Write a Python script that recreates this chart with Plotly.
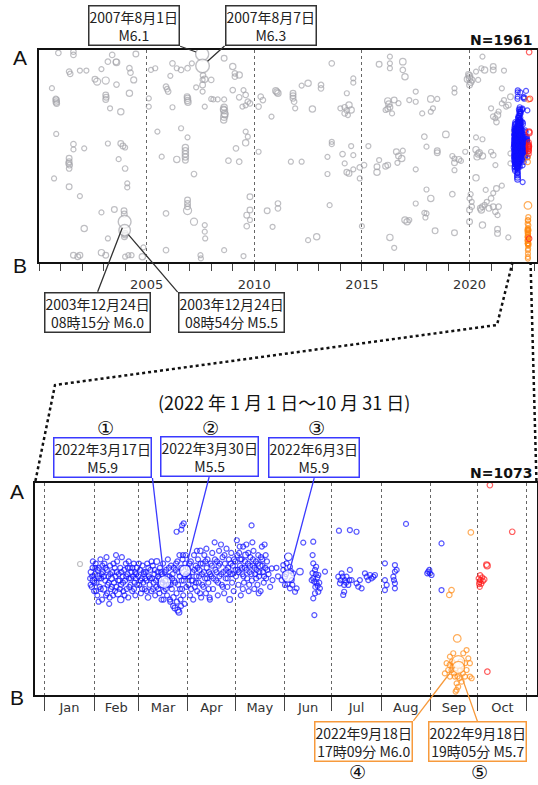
import numpy as np
import pandas as pd
import plotly.graph_objects as go

# ---------------------------------------------------------------------------
# Hypocentre catalogue projected on the A-B profile.
# position: 0 = B (bottom) ... 100 = A (top); magnitude drives the marker size.
# ---------------------------------------------------------------------------

# 2000-2021 events: (decimal year, position, magnitude)
GREY_EVENTS = [
    (2000.9, 98.6, 3.2), (2001.6, 99.2, 3.2), (2001.6, 97.7, 3.2), (2001.4, 89.8, 3.2), (2001.45, 88.7, 3.2),
    (2001.9, 90.3, 3.0), (2002.2, 90.3, 3.0), (2000.6, 82.0, 3.0), (2000.8, 76.4, 3.5), (2000.8, 75.5, 3.5),
    (2000.82, 74.8, 3.3), (2000.78, 77.0, 3.2), (2002.6, 86.2, 3.3), (2002.7, 85.1, 3.8), (2003.1, 85.6, 3.8),
    (2003.1, 78.8, 3.3), (2003.1, 76.7, 3.3), (2003.12, 77.7, 3.3), (2003.4, 97.7, 3.2), (2003.2, 94.5, 3.2),
    (2003.6, 94.2, 3.6), (2003.58, 94.4, 3.3), (2002.9, 91.0, 3.0), (2004.2, 91.4, 3.2), (2004.25, 89.3, 3.2),
    (2004.4, 85.9, 3.4), (2003.6, 83.7, 3.2), (2004.2, 79.6, 3.5), (2003.8, 70.9, 3.5), (2004.5, 98.1, 3.3),
    (2003.3, 72.5, 3.0), (2000.8, 60.4, 3.0),
    (2005.2, 90.6, 3.0), (2005.4, 91.4, 3.0), (2005.1, 77.2, 3.0), (2005.1, 73.3, 3.0), (2005.9, 82.7, 3.2),
    (2005.95, 81.5, 3.2), (2006.0, 80.4, 3.2), (2006.2, 93.7, 3.2), (2006.4, 91.4, 3.0), (2006.6, 90.6, 3.2),
    (2006.9, 91.4, 3.2), (2006.1, 87.8, 3.0), (2006.2, 73.0, 3.0), (2006.9, 77.2, 3.5), (2006.9, 76.2, 3.5),
    (2006.92, 75.4, 3.5), (2006.88, 78.0, 3.3), (2007.1, 93.7, 3.0), (2007.3, 82.4, 3.0), (2007.7, 86.2, 3.5),
    (2007.6, 83.5, 3.3), (2008.0, 85.9, 3.2), (2007.6, 80.4, 3.0), (2008.0, 76.9, 3.0), (2006.9, 58.8, 3.0),
    (2006.6, 63.1, 3.0), (2007.7, 73.3, 3.0), (2008.1, 76.7, 3.0), (2008.3, 76.7, 3.0), (2008.6, 76.7, 3.0),
    (2008.6, 73.0, 3.5), (2008.6, 71.5, 3.8), (2008.62, 70.0, 3.8), (2008.6, 68.5, 3.8), (2008.58, 67.0, 3.5),
    (2008.63, 69.5, 3.5), (2008.57, 72.0, 3.5), (2007.62, 88.0, 3.2), (2007.6, 86.0, 3.0),
    (2008.6, 96.1, 3.3), (2009.0, 92.2, 3.5), (2009.1, 89.0, 3.2), (2009.3, 88.2, 3.5), (2009.1, 87.4, 3.2),
    (2009.0, 81.1, 3.2), (2009.3, 77.7, 3.2), (2009.5, 81.1, 3.0), (2009.6, 78.8, 3.2), (2009.8, 74.8, 3.2),
    (2009.7, 75.6, 3.2), (2009.6, 73.9, 3.0), (2009.45, 73.3, 3.0), (2009.6, 61.5, 3.0), (2009.7, 59.1, 3.0),
    (2005.5, 61.5, 3.0), (2010.3, 78.0, 3.2), (2010.4, 76.4, 3.2), (2010.2, 73.3, 3.2),
    (2011.0, 80.8, 3.5), (2011.1, 79.6, 3.5), (2011.05, 80.2, 3.5), (2010.8, 68.6, 3.0), (2011.8, 79.6, 3.3),
    (2011.8, 78.4, 3.3), (2011.8, 77.2, 3.3), (2011.85, 75.6, 3.2), (2012.2, 83.2, 3.0), (2012.5, 84.3, 3.5),
    (2013.1, 83.5, 3.2), (2013.1, 81.9, 3.2), (2012.7, 72.2, 3.5), (2013.6, 93.7, 3.2), (2011.9, 72.5, 3.0),
    (2014.0, 72.5, 3.0), (2014.2, 73.0, 3.2), (2014.4, 74.0, 3.5), (2014.3, 71.5, 3.2), (2014.5, 71.7, 3.5),
    (2014.2, 70.1, 3.2), (2014.35, 69.3, 3.0), (2014.6, 86.6, 3.0), (2014.6, 84.6, 3.0), (2014.3, 79.6, 3.0),
    (2015.8, 93.3, 3.3), (2016.3, 96.9, 3.0), (2016.3, 93.7, 3.0), (2016.3, 91.4, 3.0), (2016.9, 94.5, 3.6),
    (2016.9, 90.6, 3.2), (2017.0, 87.4, 3.5), (2016.2, 76.0, 3.5), (2016.25, 74.5, 3.5), (2016.3, 73.0, 3.3),
    (2016.2, 72.3, 3.3), (2016.5, 76.4, 3.3), (2016.7, 74.9, 3.0), (2016.1, 71.7, 3.0), (2016.4, 70.1, 3.0),
    (2017.5, 80.4, 3.0), (2017.2, 76.4, 3.0), (2017.5, 75.6, 3.0), (2018.2, 76.9, 3.6), (2018.5, 76.9, 3.0),
    (2018.2, 70.9, 3.0), (2017.8, 70.1, 3.0), (2018.3, 72.5, 3.0), (2017.9, 59.1, 3.2), (2018.9, 60.2, 3.6),
    (2019.3, 81.9, 3.0), (2019.3, 79.9, 3.0),
    (2019.9, 86.2, 3.5), (2020.0, 86.7, 3.6), (2020.1, 85.9, 3.5), (2020.0, 87.8, 3.5), (2020.05, 84.8, 3.5),
    (2019.95, 88.5, 3.3), (2020.0, 83.5, 3.3), (2020.3, 89.8, 3.0), (2020.4, 85.9, 3.0), (2020.6, 96.9, 3.0),
    (2020.7, 90.6, 3.5), (2020.55, 91.4, 3.0), (2021.1, 92.2, 3.3), (2021.1, 90.6, 3.3), (2021.6, 90.3, 3.0),
    (2021.5, 81.9, 3.0), (2021.0, 72.5, 3.0), (2021.1, 68.6, 3.2), (2021.2, 67.8, 3.0), (2021.3, 69.3, 3.5),
    (2021.7, 73.3, 3.0), (2021.5, 74.8, 3.0), (2021.6, 76.4, 3.0), (2021.9, 77.9, 3.3), (2021.8, 74.0, 3.3),
    (2020.6, 57.9, 3.0), (2020.3, 58.8, 3.0), (2021.35, 71.0, 3.0), (2021.25, 66.0, 3.2),
    (2001.6, 55.6, 3.2), (2001.6, 53.1, 3.0), (2002.1, 53.6, 3.0), (2003.2, 55.9, 3.0), (2003.8, 55.9, 3.3),
    (2003.9, 54.7, 3.3), (2004.0, 54.0, 3.0), (2001.4, 48.9, 3.3), (2001.4, 47.3, 3.3), (2001.42, 45.7, 3.3),
    (2001.4, 44.1, 3.2), (2001.38, 46.5, 3.3), (2003.7, 48.5, 3.0), (2004.0, 44.1, 3.2), (2000.7, 39.4, 3.0),
    (2001.4, 35.5, 3.3), (2001.9, 31.1, 3.0), (2004.1, 37.1, 3.0), (2004.1, 35.2, 3.0), (2002.9, 23.4, 3.0),
    (2003.5, 24.8, 3.3), (2003.95, 24.2, 3.3), (2003.96, 22.6, 3.3), (2004.0, 13.5, 3.3), (2004.0, 12.7, 3.3),
    (2003.97, 11.9, 3.3), (2002.1, 15.8, 3.5), (2003.2, 11.1, 3.0), (2001.6, 3.2, 3.3), (2001.8, 2.5, 3.3),
    (2001.9, 3.2, 3.3), (2002.9, 4.4, 3.5), (2003.1, 3.2, 3.3), (2004.0, 2.5, 3.0), (2004.15, 3.2, 3.0),
    (2004.3, 3.2, 3.0), (2004.8, 2.5, 3.5), (2004.85, 6.9, 3.0), (2005.7, 49.7, 3.0), (2005.9, 5.6, 3.2),
    (2006.4, 48.4, 3.5), (2006.8, 54.0, 3.5), (2006.8, 52.5, 3.5), (2006.8, 51.0, 3.5), (2006.8, 49.5, 3.5),
    (2006.8, 48.0, 3.3), (2007.2, 41.5, 3.2), (2006.9, 29.2, 3.3), (2006.9, 27.6, 3.3), (2006.9, 26.1, 3.3),
    (2006.9, 24.3, 4.2), (2005.9, 22.9, 3.2), (2007.2, 19.0, 3.8), (2007.7, 17.4, 3.0), (2007.7, 14.3, 3.0),
    (2007.72, 11.1, 3.0), (2007.5, 3.2, 3.0), (2007.52, 1.7, 3.0), (2008.6, 5.6, 3.0), (2009.5, 2.8, 3.0),
    (2008.8, 47.8, 3.2), (2009.3, 47.3, 3.2), (2009.15, 53.6, 3.2), (2009.6, 56.2, 3.5), (2009.8, 30.8, 3.3),
    (2009.8, 24.5, 3.3), (2009.65, 22.1, 3.3), (2009.65, 16.9, 3.2), (2009.8, 19.8, 3.0), (2010.6, 24.2, 3.3),
    (2010.2, 52.0, 3.0),
    (2013.6, 56.7, 3.0), (2013.6, 55.6, 3.0), (2014.5, 54.7, 3.0), (2015.3, 54.7, 3.0), (2011.7, 47.3, 3.0),
    (2012.2, 47.3, 3.0), (2013.4, 49.6, 3.0), (2014.1, 50.9, 3.2), (2014.6, 50.4, 3.0), (2014.2, 46.5, 3.0),
    (2014.6, 43.7, 3.0), (2014.4, 41.8, 3.3), (2014.3, 42.3, 3.3), (2013.4, 41.5, 3.0), (2014.9, 44.6, 3.2),
    (2015.1, 45.7, 3.2), (2014.9, 39.4, 3.0), (2015.7, 44.9, 3.3), (2015.7, 42.3, 3.5), (2015.8, 48.1, 3.0),
    (2016.1, 45.2, 3.3), (2016.2, 45.7, 3.3), (2016.6, 52.0, 3.3), (2016.7, 50.0, 3.3), (2016.85, 48.8, 3.5),
    (2016.65, 46.8, 3.0), (2016.9, 52.5, 3.0), (2017.5, 43.7, 3.0), (2018.0, 54.4, 3.0), (2018.5, 51.5, 3.3),
    (2018.5, 52.5, 3.3), (2019.2, 50.0, 3.0), (2019.3, 48.8, 3.0), (2019.3, 46.8, 3.3), (2019.5, 48.4, 3.3),
    (2019.6, 47.7, 3.0), (2019.8, 52.0, 3.0), (2019.3, 43.3, 3.0), (2020.3, 53.0, 3.5), (2020.45, 51.5, 3.5),
    (2020.35, 49.6, 3.5), (2020.6, 50.0, 3.5), (2020.4, 51.0, 3.5), (2020.3, 39.7, 3.5), (2021.1, 50.4, 3.2),
    (2021.2, 45.7, 3.0), (2021.0, 52.0, 3.0), (2021.9, 46.5, 3.0), (2021.9, 51.2, 3.0), (2018.0, 34.2, 3.0),
    (2019.2, 32.0, 3.2), (2018.2, 30.0, 3.5), (2017.5, 27.6, 3.0), (2020.1, 28.4, 3.0), (2020.1, 26.1, 3.2),
    (2020.0, 24.5, 3.3), (2020.0, 19.0, 3.3), (2020.5, 25.3, 3.3), (2020.55, 24.5, 3.5), (2020.6, 26.1, 3.3),
    (2020.9, 25.3, 3.3), (2021.1, 26.1, 3.3), (2021.2, 23.7, 3.2), (2021.3, 22.1, 3.0), (2020.8, 28.4, 3.0),
    (2021.0, 30.0, 3.2), (2021.1, 32.5, 3.0), (2021.25, 34.7, 3.3), (2020.75, 34.0, 3.0), (2020.7, 27.0, 3.0),
    (2021.35, 26.1, 3.2), (2011.1, 27.6, 3.2), (2011.1, 25.3, 3.2), (2013.5, 26.8, 3.0), (2017.9, 23.2, 3.0),
    (2018.0, 22.9, 3.0), (2017.95, 21.0, 3.0), (2017.0, 19.8, 3.5), (2017.1, 19.0, 3.5), (2017.2, 19.8, 3.0),
    (2018.4, 14.7, 3.3), (2019.3, 13.8, 3.3), (2020.6, 17.4, 3.5), (2021.3, 15.4, 3.3), (2021.3, 13.5, 3.3),
    (2021.8, 11.6, 3.0), (2015.0, 16.9, 3.0), (2012.9, 11.9, 3.5), (2012.5, 10.3, 3.0), (2016.3, 11.6, 3.5),
    (2016.5, 6.7, 3.0), (2010.85, 16.6, 3.0), (2020.0, 30.0, 3.0), (2020.05, 32.0, 3.0), (2021.5, 36.0, 3.0),
]

# 2022 events: (day counted from 1 January 2022, position, magnitude)
GREY_2022 = [(22.1, 61.8, 3.0)]

BLUE_2022 = [
    # February
    (28.5, 55, 3.0), (29.0, 58, 3.2), (29.5, 51, 3.0), (30.0, 60, 3.0), (30.5, 54, 3.5), (31.0, 49, 3.0),
    (31.5, 57, 3.0), (32.0, 62, 3.0), (32.5, 53, 3.0), (33.0, 47, 3.0), (33.5, 56, 3.3), (34.0, 60, 3.0),
    (34.5, 51, 3.0), (35.0, 64, 3.0), (35.5, 55, 3.0), (36.0, 45, 3.0), (36.5, 58, 3.0), (37.0, 50, 3.5),
    (37.5, 62, 3.0), (38.0, 54, 3.0), (38.5, 47, 3.0), (39.0, 59, 3.0), (39.5, 52, 3.0), (40.0, 56, 3.0),
    (40.5, 43, 3.0), (41.0, 61, 3.0), (41.5, 50, 3.0), (42.0, 55, 3.3), (42.5, 58, 3.0), (43.0, 47, 3.0),
    (43.5, 53, 3.0), (44.0, 60, 3.0), (44.5, 56, 3.0), (45.0, 51, 3.0), (45.5, 63, 3.0), (46.0, 48, 3.8),
    (46.5, 57, 3.0), (47.0, 54, 3.0), (47.5, 60, 3.0), (48.0, 52, 3.0), (48.5, 65, 3.0), (49.0, 56, 3.0),
    (49.5, 49, 3.0), (50.0, 59, 3.0), (50.5, 54, 3.0), (51.0, 62, 3.0), (51.5, 50, 3.0), (52.0, 57, 3.0),
    (52.5, 46, 3.0), (53.0, 55, 3.0), (53.5, 60, 3.0), (54.0, 52, 3.0), (54.5, 58, 3.0), (55.0, 49, 3.0),
    (55.5, 56, 3.0), (56.0, 62, 3.0), (56.5, 53, 3.0), (57.0, 47, 3.0), (57.5, 57, 3.0), (58.0, 60, 3.2),
    (28.8, 52, 3.0), (29.8, 56, 3.0), (30.2, 63, 3.0), (31.2, 53, 3.0), (32.2, 49, 3.0), (33.2, 59, 3.0),
    (34.2, 55, 3.0), (35.2, 50, 3.0), (36.2, 61, 3.0), (37.2, 56, 3.0), (38.2, 60, 3.0), (39.2, 48, 3.0),
    (40.2, 53, 3.0), (41.2, 57, 3.0), (42.2, 51, 3.0), (43.2, 62, 3.0), (44.2, 49, 3.0), (45.2, 58, 3.0),
    (46.2, 54, 3.0), (47.2, 50, 3.0), (48.2, 58, 3.0), (49.2, 53, 3.0), (50.2, 47, 3.0), (51.2, 56, 3.0),
    (52.2, 60, 3.0), (53.2, 51, 3.0), (54.2, 55, 3.0), (55.2, 60, 3.0), (56.2, 50, 3.0), (57.2, 55, 3.0),
    (58.2, 52, 3.0), (33.8, 44, 3.0), (40.8, 46, 3.0), (47.8, 45, 3.5), (44.8, 66, 3.0), (38.8, 65, 3.0),
    (31.8, 60, 3.0), (52.8, 63, 3.0), (56.8, 58, 3.0), (35.8, 57, 3.0),
    # March
    (59.0, 56, 3.0), (59.5, 52, 3.0), (60.0, 59, 3.0), (60.5, 48, 3.0), (61.0, 55, 3.0), (61.5, 61, 3.0),
    (62.0, 53, 3.0), (62.5, 57, 3.0), (63.0, 50, 3.0), (63.5, 58, 3.0), (64.0, 54, 3.0), (64.5, 62, 3.0),
    (65.0, 46, 3.2), (65.5, 56, 3.0), (66.0, 52, 3.0), (66.5, 59, 3.0), (67.0, 49, 3.0), (67.5, 55, 3.0),
    (68.0, 61, 3.0), (68.5, 53, 3.0), (69.0, 57, 3.0), (69.5, 47, 3.0), (70.0, 54, 3.0), (70.5, 63, 3.3),
    (71.0, 58, 3.0), (71.5, 50, 3.0), (72.0, 55, 3.0), (72.5, 60, 3.0), (73.0, 52, 3.5), (73.5, 45, 3.0),
    (74.0, 57, 3.0), (74.5, 62, 3.0), (75.0, 49, 3.0), (76.0, 54, 3.0), (76.5, 59, 3.0), (77.0, 47, 3.0),
    (77.5, 64, 3.0), (78.0, 52, 3.0), (78.5, 56, 3.0), (79.0, 44, 3.0), (79.5, 61, 3.0), (80.0, 50, 3.0),
    (80.5, 57, 3.0), (81.0, 46, 3.2), (81.5, 54, 3.0), (82.0, 41, 3.3), (82.5, 59, 3.0), (83.0, 48, 3.0),
    (83.5, 63, 3.0), (84.0, 52, 3.0), (84.5, 39, 3.3), (85.0, 56, 3.0), (85.5, 45, 3.0), (86.0, 60, 3.0),
    (86.5, 50, 3.0), (87.0, 66, 3.0), (87.5, 54, 3.0), (88.0, 43, 3.0), (88.5, 62, 3.0), (89.0, 57, 3.0),
    (83.0, 77, 3.0), (86.0, 78, 3.0), (86.5, 80, 3.0), (87.5, 81, 3.0),
    (59.2, 62, 3.0), (60.2, 54, 3.0), (61.2, 50, 3.0), (62.2, 58, 3.0), (63.2, 55, 3.0), (64.2, 49, 3.0),
    (65.2, 60, 3.0), (66.2, 55, 3.0), (67.2, 63, 3.0), (68.2, 50, 3.0), (69.2, 59, 3.0), (70.2, 51, 3.0),
    (71.2, 56, 3.0), (72.2, 48, 3.0), (73.2, 58, 3.0), (74.2, 53, 3.0), (75.5, 58, 3.0), (76.2, 50, 3.0),
    (77.2, 56, 3.0), (78.2, 60, 3.0), (79.2, 52, 3.0), (80.2, 55, 3.0), (81.2, 60, 3.0), (82.2, 53, 3.0),
    (83.2, 44, 3.0), (84.2, 58, 3.0), (85.2, 50, 3.0), (86.2, 54, 3.0), (87.2, 47, 3.0), (88.2, 56, 3.0),
    (89.2, 51, 3.0), (80.8, 42, 3.0), (83.8, 40, 3.3), (85.8, 42, 3.0), (78.8, 45, 3.0), (74.8, 45, 3.0),
    (86.8, 64, 3.0), (84.8, 66, 3.0), (88.8, 66, 3.0), (82.7, 62, 3.0),
    # April
    (90.0, 60, 3.0), (90.5, 52, 3.0), (91.0, 56, 3.0), (91.5, 47, 3.0), (92.0, 63, 3.0), (92.5, 54, 3.0),
    (93.0, 58, 3.0), (93.5, 45, 3.0), (94.0, 66, 3.0), (94.5, 51, 3.0), (95.0, 61, 3.0), (95.5, 56, 3.0),
    (96.0, 49, 3.0), (96.5, 64, 3.0), (97.0, 53, 3.0), (97.5, 59, 3.0), (98.0, 68, 3.2), (98.5, 46, 3.0),
    (99.0, 57, 3.0), (99.5, 62, 3.0), (100.0, 51, 3.0), (100.5, 66, 3.0), (101.0, 55, 3.0), (101.5, 48, 3.0),
    (102.0, 60, 3.0), (102.5, 64, 3.0), (103.0, 53, 3.0), (103.5, 58, 3.0), (104.0, 45, 3.0), (104.5, 62, 3.0),
    (105.0, 56, 3.0), (105.5, 67, 3.0), (106.0, 50, 3.0), (107.0, 72, 3.0), (107.5, 59, 3.0), (108.0, 54, 3.0),
    (108.5, 63, 3.0), (109.0, 47, 3.0), (109.5, 61, 3.0), (110.0, 56, 3.0), (111.0, 71, 3.0), (111.5, 52, 3.0),
    (112.0, 65, 3.0), (112.5, 58, 3.0), (113.0, 48, 3.0), (113.5, 62, 3.0), (114.0, 55, 3.0), (114.5, 69, 3.0),
    (115.0, 51, 3.0), (115.5, 60, 3.0), (116.0, 64, 3.0), (116.5, 45, 3.3), (117.0, 57, 3.0), (117.5, 67, 3.0),
    (118.0, 53, 3.0), (118.5, 61, 3.0), (119.0, 49, 3.0),
    (90.2, 56, 3.0), (91.2, 62, 3.0), (92.2, 50, 3.0), (93.2, 54, 3.0), (94.2, 59, 3.0), (95.2, 53, 3.0),
    (96.2, 60, 3.0), (97.2, 56, 3.0), (98.2, 62, 3.0), (99.2, 52, 3.0), (100.2, 58, 3.0), (101.2, 63, 3.0),
    (102.2, 55, 3.0), (103.2, 50, 3.0), (104.2, 57, 3.0), (105.2, 61, 3.0), (106.2, 55, 3.0), (107.2, 64, 3.0),
    (108.2, 58, 3.0), (109.2, 53, 3.0), (110.2, 62, 3.0), (111.2, 57, 3.0), (112.2, 51, 3.0), (113.2, 66, 3.0),
    (114.2, 59, 3.0), (115.2, 55, 3.0), (116.2, 58, 3.0), (117.2, 62, 3.0), (118.2, 57, 3.0), (119.2, 64, 3.0),
    (95.8, 68, 3.0), (101.8, 69, 3.0), (109.8, 68, 3.0), (103.8, 46, 3.0), (97.8, 48, 3.0),
    # May
    (120.0, 63, 3.0), (120.5, 56, 3.0), (121.0, 73, 3.0), (121.5, 59, 3.0), (122.0, 52, 3.0), (122.5, 67, 3.0),
    (123.0, 61, 3.0), (123.5, 47, 3.0), (124.0, 64, 3.0), (124.5, 57, 3.0), (125.0, 70, 3.0), (125.5, 53, 3.0),
    (126.0, 60, 3.0), (126.5, 66, 3.3), (127.0, 71, 3.0), (127.5, 55, 3.0), (128.0, 62, 3.0), (128.5, 49, 3.0),
    (129.0, 58, 3.0), (129.5, 65, 3.0), (130.3, 80, 3.0), (130.5, 54, 3.0), (131.0, 61, 3.0), (131.5, 68, 3.0),
    (132.0, 50, 3.0), (132.5, 57, 3.0), (133.0, 63, 3.0), (133.5, 59, 3.0), (134.0, 52, 3.0), (134.5, 66, 3.0),
    (135.0, 56, 3.0), (135.5, 61, 3.5), (136.0, 49, 3.0), (137.0, 64, 3.0), (137.5, 58, 3.0), (138.0, 53, 3.0),
    (138.5, 71, 3.0), (139.0, 60, 3.0), (139.5, 55, 3.0), (140.0, 63, 3.0), (141.0, 57, 3.0), (142.0, 51, 3.0),
    (143.0, 59.7, 3.0), (143.5, 54.2, 3.0), (146.0, 60, 3.0), (147.0, 56, 3.0),
    (120.2, 59, 3.0), (121.2, 66, 3.0), (122.2, 58, 3.0), (123.2, 64, 3.0), (124.2, 60, 3.0), (125.2, 56, 3.0),
    (126.2, 63, 3.0), (127.2, 59, 3.0), (128.2, 67, 3.0), (129.2, 61, 3.0), (130.2, 57, 3.0), (131.2, 64, 3.0),
    (132.2, 60, 3.0), (133.2, 55, 3.0), (134.2, 62, 3.0), (135.2, 58, 3.0), (136.2, 65, 3.0), (137.2, 61, 3.0),
    (138.2, 56, 3.0), (139.2, 66, 3.0), (140.2, 59, 3.0), (124.8, 50, 3.0), (128.8, 52, 3.0), (134.8, 48, 3.0),
    (122.8, 70, 3.0), (130.8, 72, 3.0), (136.8, 70, 3.0),
    # June
    (149.3, 54.2, 3.0), (150.3, 59.0, 3.0), (150.3, 61.3, 3.0), (151.4, 51.9, 3.0), (151.4, 55.8, 3.0),
    (152.4, 62.1, 3.0), (153.5, 65.2, 4.0), (154.5, 60.5, 3.0), (154.5, 50.3, 3.0), (155.6, 54.2, 3.0),
    (156.6, 57.4, 3.0), (157.7, 48.7, 3.0), (158.7, 50.3, 3.0), (160.8, 58.2, 3.6), (162.9, 71.9, 3.0),
    (152.0, 57.0, 3.0), (155.0, 58.5, 3.0), (156.0, 52.0, 3.0), (153.0, 52.5, 3.0),
    (168.8, 66.0, 3.0), (169.2, 62.1, 3.0), (170.3, 59.0, 3.0), (169.2, 55.0, 3.0), (171.3, 52.7, 3.0),
    (168.2, 54.2, 3.0), (172.4, 56.6, 3.0), (173.4, 50.3, 3.0), (170.3, 48.0, 3.0), (169.2, 45.6, 3.0),
    (172.4, 48.7, 3.0), (176.6, 58.2, 3.0), (169.9, 37.7, 3.0), (169.2, 72.3, 3.0), (170.8, 57.0, 3.0),
    (171.8, 55.5, 3.0), (168.7, 57.5, 3.0), (173.0, 53.0, 3.0), (170.5, 51.0, 3.0), (171.0, 60.5, 3.0),
    (172.0, 51.5, 3.0), (169.8, 53.5, 3.0),
    # July
    (185.0, 55.8, 3.0), (186.0, 52.7, 3.0), (187.1, 57.4, 3.0), (188.1, 47.2, 3.0), (189.2, 54.2, 3.0),
    (190.2, 55.8, 3.0), (191.3, 51.9, 3.0), (192.3, 59.0, 3.0), (193.4, 54.2, 3.0), (196.5, 52.7, 3.0),
    (197.6, 51.1, 3.0), (198.6, 54.2, 3.0), (199.7, 50.3, 3.0), (201.8, 57.4, 3.0), (202.9, 55.8, 3.0),
    (203.9, 54.2, 3.0), (205.0, 56.6, 3.0), (206.0, 55.0, 3.0), (207.1, 55.8, 3.0), (208.1, 56.6, 3.0),
    (186.5, 54.2, 3.0), (187.8, 55.8, 3.0), (188.7, 51.9, 3.0), (189.9, 53.0, 3.0), (192.0, 54.2, 3.0),
    (188.7, 48.7, 3.0), (185.4, 77.5, 3.0), (192.3, 77.8, 3.0), (196.5, 77.0, 3.0),
    # August
    (214.4, 62.1, 3.0), (214.4, 54.2, 3.0), (215.5, 51.9, 3.0), (214.4, 49.5, 3.0), (220.7, 61.3, 3.0),
    (220.7, 58.2, 3.0), (219.7, 55.8, 3.0), (220.7, 52.7, 3.0), (220.7, 50.3, 3.0), (221.8, 59.0, 3.0),
    (220.1, 54.2, 3.0), (227.7, 80.7, 3.0),
    # September
    (241.7, 58.2, 3.0), (242.8, 57.4, 3.0), (242.4, 59.0, 3.0), (243.8, 56.6, 3.0), (241.1, 57.4, 3.0),
    (250.1, 71.5, 3.0), (250.1, 49.5, 3.0),
]

ORANGE_2022 = [
    (268.6, 76.7, 3.2), (256.4, 49.5, 3.2), (255.0, 47.2, 3.2), (260.0, 26.7, 4.0),
    (253.3, 15.0, 3.0), (255.4, 18.1, 3.0), (257.5, 19.7, 3.0), (256.4, 11.8, 3.0), (258.5, 8.7, 3.0),
    (259.6, 5.5, 3.0), (259.6, 2.4, 3.0), (261.7, 11.8, 3.0), (262.8, 13.4, 3.0), (263.8, 19.7, 3.0),
    (265.9, 21.2, 3.0), (267.0, 17.3, 3.0), (268.0, 15.0, 3.0), (269.1, 7.9, 3.0), (264.9, 8.7, 3.0),
    (262.8, 6.3, 3.0), (255.4, 8.7, 3.0), (254.3, 11.8, 3.0), (252.2, 10.2, 3.0), (257.5, 15.0, 3.0),
    (265.9, 11.8, 3.0), (268.0, 8.7, 3.0), (260.6, 3.9, 3.0), (259.0, 1.6, 3.0), (257.1, 13.4, 3.0),
    (258.0, 10.2, 3.0), (260.2, 8.7, 3.0), (261.4, 7.9, 3.0), (263.5, 10.2, 3.0), (264.9, 15.0, 3.0),
    (256.8, 15.8, 3.0), (255.2, 14.2, 3.0), (262.0, 15.8, 3.0), (259.2, 12.6, 3.0),
]

RED_2022 = [
    (280.6, 99.0, 3.2), (294.7, 77.0, 3.2), (278.9, 61.0, 3.5), (278.5, 61.5, 3.3),
    (274.7, 54.2, 3.0), (273.5, 55.0, 3.0), (274.0, 53.3, 3.0), (275.2, 52.5, 3.0), (275.8, 55.5, 3.0),
    (276.2, 53.8, 3.0), (273.8, 52.3, 3.0), (274.5, 56.5, 3.0), (277.0, 54.5, 3.2), (274.2, 51.0, 3.0),
    (279.0, 11.0, 3.2),
]

# Labelled large events
BIG_PAST = [
    # (decimal year, position, magnitude, label)
    (2007.580, 98.0, 6.1, "2007年8月1日<br>M6.1"),
    (2007.597, 92.5, 6.3, "2007年8月7日<br>M6.3"),
    (2003.978, 19.0, 6.0, "2003年12月24日<br>08時15分 M6.0"),
    (2003.979, 15.0, 5.5, "2003年12月24日<br>08時54分 M5.5"),
]
BIG_2022 = [
    # (day from 1 Jan 2022, position, magnitude, label, colour group, circled number)
    (75.35, 53.3, 5.9, "2022年3月17日<br>M5.9", "blue", "①"),
    (88.40, 58.5, 5.5, "2022年3月30日<br>M5.5", "blue", "②"),
    (153.40, 56.1, 5.9, "2022年6月3日<br>M5.9", "blue", "③"),
    (260.71, 15.6, 6.0, "2022年9月18日<br>17時09分 M6.0", "orange", "④"),
    (260.80, 13.0, 5.7, "2022年9月18日<br>19時05分 M5.7", "orange", "⑤"),
]
N_TOTAL = 1961
N_2022 = 1073

# ---------------------------------------------------------------------------
W, H = 538, 785
COL = {"grey": "#a4a4aa", "blue": "#1010ff", "orange": "#ff8a14", "red": "#ff1a1a"}
BOX = {"grey": "#333333", "blue": "#3a3aff", "orange": "#f79a3c"}
CJK = "Noto Sans CJK JP"
SANS = "DejaVu Sans"


def px(x):
    return x / W


def py(y):
    return 1 - y / H


X1_DOM = [px(39), px(536.5)]
Y1_DOM = [py(262), py(50)]
X2_DOM = [px(35), px(536.5)]
Y2_DOM = [py(695), py(483)]
X1_RNG = [2000.0, 2023.11]
X2_RNG = ["2021-12-25 17:00", "2022-11-07 00:00"]

BASE = pd.Timestamp("2022-01-01")


def msize(m):
    return 5 + (np.asarray(m, dtype=float) - 3.0) * 2.6


def cols(rows):
    a = np.array([r[:3] for r in rows], dtype=float)
    return a[:, 0], a[:, 1], a[:, 2]


def to_date(days):
    return BASE + pd.to_timedelta(np.asarray(days, dtype=float), unit="D")


def to_year(days):
    return 2022 + np.asarray(days, dtype=float) / 365.0


def open_marker(m, key):
    return dict(symbol="circle-open", size=msize(m), color=COL[key], line=dict(width=1.2))


fig = go.Figure()

# ---- upper panel: 2000-2022 ; lower panel: 2022 only
gy, gp, gm = cols(GREY_EVENTS)
fig.add_trace(go.Scatter(x=gy, y=gp, mode="markers", xaxis="x", yaxis="y", marker=open_marker(gm, "grey")))
for rows, key in [(GREY_2022, "grey"), (BLUE_2022, "blue"), (ORANGE_2022, "orange"), (RED_2022, "red")]:
    d, p, m = cols(rows)
    fig.add_trace(go.Scatter(x=to_year(d), y=p, mode="markers", xaxis="x", yaxis="y",
                             marker=open_marker(m, key)))
    fig.add_trace(go.Scatter(x=to_date(d), y=p, mode="markers", xaxis="x2", yaxis="y2",
                             marker=open_marker(m, key)))

# highlighted events (white filled)
by = np.array([r[0] for r in BIG_PAST]); bp = np.array([r[1] for r in BIG_PAST]); bm = np.array([r[2] for r in BIG_PAST])
fig.add_trace(go.Scatter(x=by, y=bp, mode="markers", xaxis="x", yaxis="y",
                         marker=dict(symbol="circle", size=msize(bm), color="white",
                                     line=dict(width=1.4, color=COL["grey"]))))
for grp in ["blue", "orange"]:
    rows = [r for r in BIG_2022 if r[4] == grp]
    d = np.array([r[0] for r in rows]); p = np.array([r[1] for r in rows]); m = np.array([r[2] for r in rows])
    fig.add_trace(go.Scatter(x=to_date(d), y=p, mode="markers", xaxis="x2", yaxis="y2",
                             marker=dict(symbol="circle", size=msize(m), color="white",
                                         line=dict(width=1.2, color=COL[grp]))))

# ---- annotation boxes with leader lines
ann = []
box_font = dict(family=CJK, size=14, color="#222")
# (ax, ay, xanchor, yanchor) of each box tail relative to the event
past_layout = [(-22, -8, "right", "bottom"), (22, -20, "left", "bottom"),
               (-27, 70, "center", "top"), (53, 62, "left", "top")]
for (yr, pos, mag, label), (ax_, ay_, xa, ya) in zip(BIG_PAST, past_layout):
    ann.append(dict(x=yr, y=pos, xref="x", yref="y", text=label, showarrow=True, arrowhead=0,
                    arrowwidth=1.3, arrowcolor=BOX["grey"], ax=ax_, ay=ay_, xanchor=xa, yanchor=ya,
                    standoff=msize(mag) / 2, bordercolor=BOX["grey"], borderwidth=1.5, borderpad=0,
                    bgcolor="white", align="center", font=box_font))

new_layout = [(-12, -104, "right", "bottom", 105, 428), (24, -94, "center", "bottom", 210, 428),
              (26, -98, "center", "bottom", 316, 428), (-45, 59, "right", "top", 357, 772),
              (19, 54, "center", "top", 479, 772)]
for (day, pos, mag, label, grp, num), (ax_, ay_, xa, ya, nx, ny) in zip(BIG_2022, new_layout):
    ann.append(dict(x=to_date([day])[0], y=pos, xref="x2", yref="y2", text=label, showarrow=True,
                    arrowhead=0, arrowwidth=1.3, arrowcolor=BOX[grp], ax=ax_, ay=ay_, xanchor=xa,
                    yanchor=ya, standoff=msize(mag) / 2, bordercolor=BOX[grp], borderwidth=1.5,
                    borderpad=0, bgcolor="white", align="center", font=box_font))
    ann.append(dict(x=px(nx), y=py(ny), xref="paper", yref="paper", text=num, showarrow=False,
                    xanchor="center", yanchor="middle",
                    font=dict(family="DejaVu Sans, Noto Sans CJK JP", size=19, color="#111")))

# profile end labels and counts
for top_y, bot_y, lx in [(58, 266, 20), (491, 697, 17)]:
    for txt, yy in [("A", top_y), ("B", bot_y)]:
        ann.append(dict(x=px(lx), y=py(yy), xref="paper", yref="paper", text=txt, showarrow=False,
                        xanchor="center", yanchor="middle",
                        font=dict(family="Liberation Sans", size=21, color="#111")))
for xr, yr_, n in [("x domain", "y domain", N_TOTAL), ("x2 domain", "y2 domain", N_2022)]:
    ann.append(dict(x=1, y=1, xref=xr, yref=yr_, xanchor="right", yanchor="bottom",
                    text=f"N={n}", showarrow=False, xshift=-3, yshift=0,
                    font=dict(family=SANS, size=14, color="#111", weight="bold")))
ann.append(dict(x=px(284), y=py(402), xref="paper", yref="paper", xanchor="center", yanchor="middle",
                text="(2022 年 1 月 1 日～10 月 31 日)", showarrow=False,
                font=dict(family=CJK, size=18, color="#111")))


# ---- dotted connectors from the 2022 window of the upper axis to the lower panel
def x1_paper(v):
    return X1_DOM[0] + (v - X1_RNG[0]) / (X1_RNG[1] - X1_RNG[0]) * (X1_DOM[1] - X1_DOM[0])


start = x1_paper(2022.0)
end = x1_paper(2022 + 304 / 365)
shapes = [
    dict(type="path", xref="paper", yref="paper",
         path=f"M {start},{Y1_DOM[0]} L {px(497)},{py(325)} L {px(55)},{py(385)} L {X2_DOM[0]},{Y2_DOM[1]}",
         line=dict(color="#111", width=2.5, dash="dot")),
    dict(type="path", xref="paper", yref="paper",
         path=f"M {end},{Y1_DOM[0]} L {X2_DOM[1]},{Y2_DOM[1]}",
         line=dict(color="#111", width=2.5, dash="dot")),
]

axis_common = dict(showline=True, linecolor="#111", linewidth=2, mirror=True, zeroline=False)
fig.update_layout(
    width=W, height=H, margin=dict(l=0, r=0, t=0, b=0),
    paper_bgcolor="white", plot_bgcolor="white", showlegend=False,
    xaxis=dict(domain=X1_DOM, range=X1_RNG, anchor="y", tickmode="array",
               tickvals=[2005, 2010, 2015, 2020], ticks="outside", ticklen=7, tickcolor="#444",
               tickwidth=1, showgrid=True, gridcolor="#666", griddash="dot", gridwidth=1,
               tickfont=dict(family=SANS, size=13, color="#333"), ticklabelstandoff=2,
               minor=dict(tickmode="linear", tick0=2000, dtick=1, ticks="outside", ticklen=7,
                          tickcolor="#444", showgrid=False),
               **axis_common),
    yaxis=dict(domain=Y1_DOM, range=[0, 100], anchor="x", showticklabels=False, ticks="",
               showgrid=False, **axis_common),
    xaxis2=dict(domain=X2_DOM, range=X2_RNG, type="date", anchor="y2", tick0="2022-01-01",
                dtick="M1", ticklabelmode="period", tickformat="%b", ticks="outside", ticklen=14,
                tickcolor="#444", tickwidth=1, showgrid=True, gridcolor="#666", griddash="dot",
                gridwidth=1, tickfont=dict(family=SANS, size=13, color="#333"),
                ticklabelstandoff=-15, **axis_common),
    yaxis2=dict(domain=Y2_DOM, range=[0, 100], anchor="x2", showticklabels=False, ticks="",
                showgrid=False, **axis_common),
    annotations=ann, shapes=shapes,
)

fig.write_html("out.html")
